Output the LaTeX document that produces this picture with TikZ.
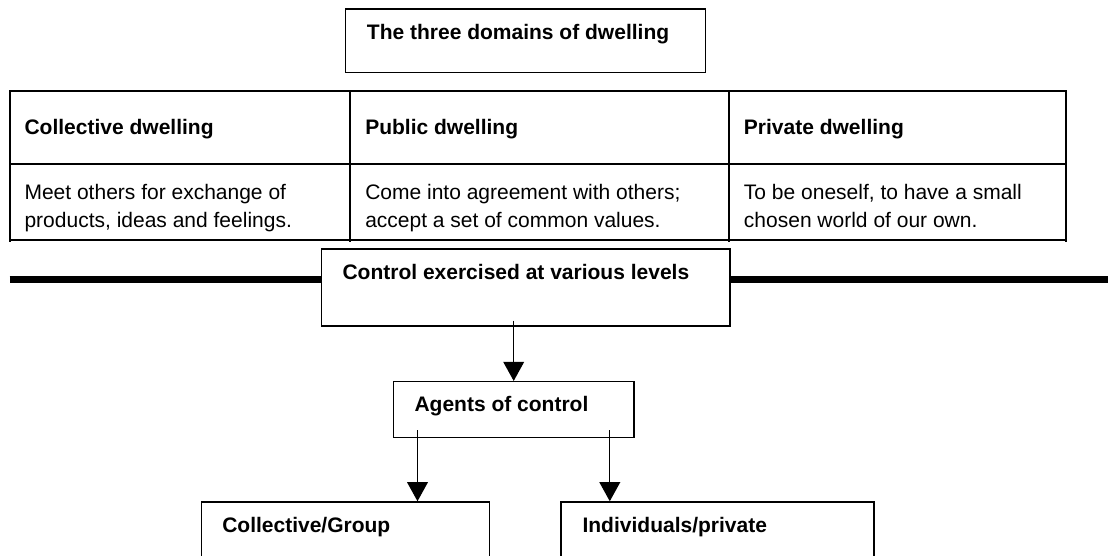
\documentclass[tikz,border=0pt]{standalone}
\usepackage{fontspec}
\setmainfont{Liberation Sans}
\usetikzlibrary{arrows.meta,fit}
\begin{document}
\begin{tikzpicture}[x=0.75pt,y=-0.75pt,
  frame/.style={draw, line width=1.1pt, inner sep=0pt},
  rule/.style={line width=1.5pt},
  bar/.style={line width=5.4pt},
  head/.style={anchor=base west, inner sep=0pt, font=\fontsize{15.75}{21}\selectfont\bfseries},
  body/.style={anchor=base west, inner sep=0pt, font=\fontsize{15.75}{21}\selectfont},
  arr/.style={line width=1pt, -{Triangle[width=15.5pt,length=14.3pt]}}]
\useasboundingbox (0,0) rectangle (1108,556);

% title box
\node[frame, fit={(345.7,9) (705.7,72.7)}] (title) {};
\node[head] (titletext) at (366.7,40) {The three domains of dwelling};

% table of the three domains
\node[draw, rule, inner sep=0pt, fit={(10,91) (1066,240)}] (table) {};
\draw[rule] (10,164.5) -- (1066,164.5);
\draw[rule] (350,91) -- (350,242);
\draw[rule] (729,91) -- (729,242);
\draw[rule] (10,240) -- (10,242);
\draw[rule] (1066,240) -- (1066,242);

\node[head] (h1) at (24.3,135) {Collective dwelling};
\node[head] (h2) at (365,135) {Public dwelling};
\node[head] (h3) at (743.7,135) {Private dwelling};

\node[body] (b1) at (24.3,200) {\begin{tabular}[t]{@{}l@{}}Meet others for exchange of\\products, ideas and feelings.\end{tabular}};
\node[body] (b2) at (365,200) {\begin{tabular}[t]{@{}l@{}}Come into agreement with others;\\accept a set of common values.\end{tabular}};
\node[body] (b3) at (743.7,200) {\begin{tabular}[t]{@{}l@{}}To be oneself, to have a small\\chosen world of our own.\end{tabular}};

% control box with the heavy rule through it
\node[frame, fit={(321.7,249) (730,326)}] (ctrl) {};
\node[head] (ctrltext) at (342.3,280) {Control exercised at various levels};
\coordinate (barL) at (9.6,279.7);
\coordinate (barR) at (1108,279.7);
\draw[bar] (barL) -- (barL -| ctrl.west);
\draw[bar] (ctrl.east |- barR) -- (barR);

% agents of control
\node[frame, fit={(393.3,381.7) (634,437.3)}] (agents) {};
\node[head] (agentstext) at (414.3,411.7) {Agents of control};

% lower boxes
\node[frame, fit={(201.5,502) (489.6,600)}] (group) {};
\node[head] (grouptext) at (222,532) {Collective/Group};
\node[frame, fit={(561.2,502) (874,600)}] (indiv) {};
\node[head] (indivtext) at (582.3,532) {Individuals/private};

% connectors
\coordinate (a1) at (513.7,320.7);
\draw[arr] (a1) -- (a1 |- agents.north);
\coordinate (a2) at (417.5,430);
\draw[arr] (a2) -- (a2 |- group.north);
\coordinate (a3) at (609.8,430);
\draw[arr] (a3) -- (a3 |- indiv.north);
\end{tikzpicture}
\end{document}
